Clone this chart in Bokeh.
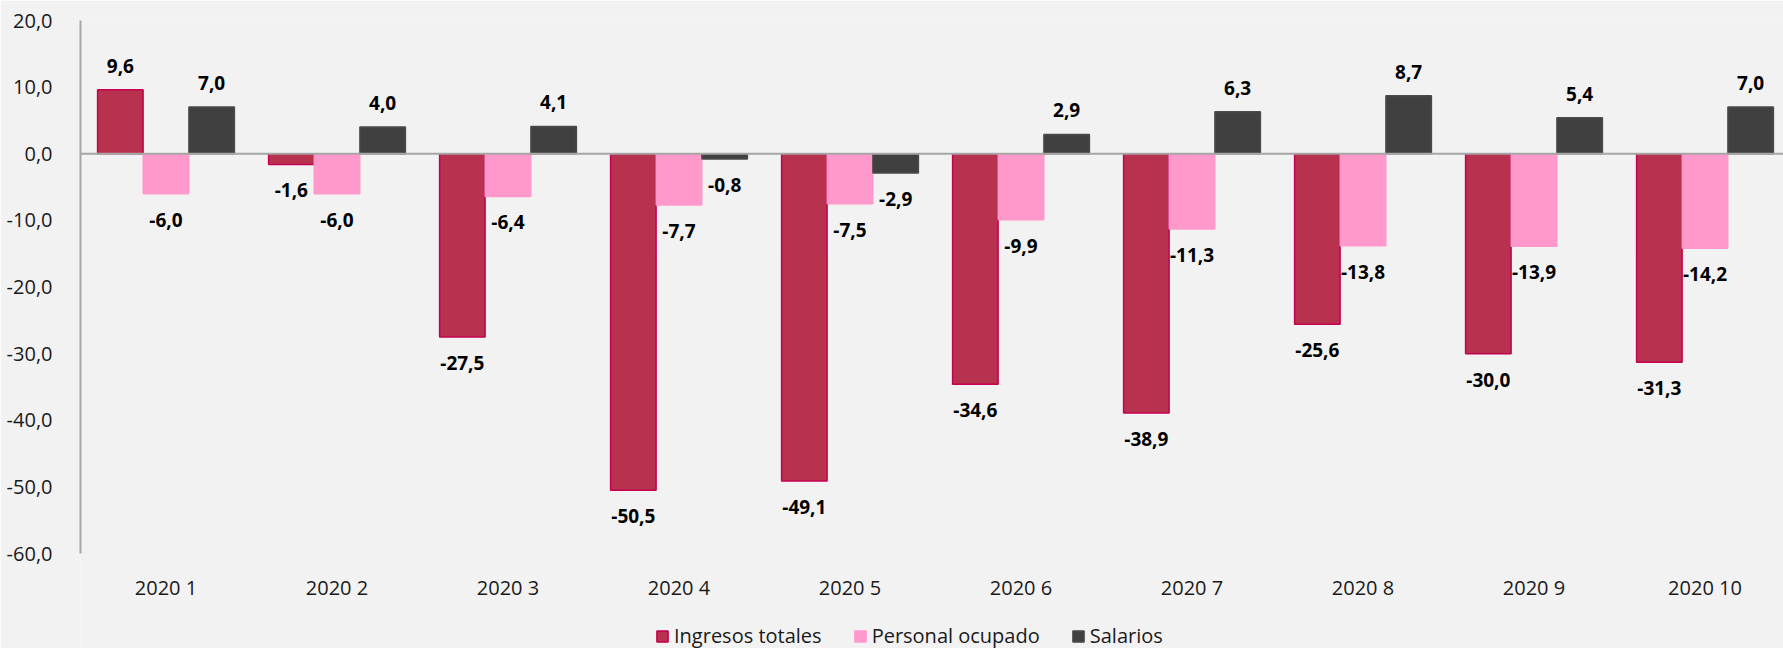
from bokeh.plotting import figure
from bokeh.models import Range1d, FixedTicker, Span, Legend, LegendItem, ColumnDataSource
from bokeh.embed import file_html
from bokeh.resources import INLINE
from bokeh.core.properties import value

categories = ["2020 1", "2020 2", "2020 3", "2020 4", "2020 5",
              "2020 6", "2020 7", "2020 8", "2020 9", "2020 10"]
ingresos = [9.6, -1.6, -27.5, -50.5, -49.1, -34.6, -38.9, -25.6, -30.0, -31.3]
personal = [-6.0, -6.0, -6.4, -7.7, -7.5, -9.9, -11.3, -13.8, -13.9, -14.2]
salarios = [7.0, 4.0, 4.1, -0.8, -2.9, 2.9, 6.3, 8.7, 5.4, 7.0]
series_names = ["Ingresos totales", "Personal ocupado", "Salarios"]
y_ticks = [-60, -50, -40, -30, -20, -10, 0, 10, 20]
y_min, y_max = -60, 20

FONT = "Open Sans"
BG = "#F2F2F2"
fills = ["#B83250", "#FF99CC", "#404040"]
lines = ["#C4004F", "#FF99CC", "#4A4A4A"]
offsets = [-0.267, 0.0, 0.267]
bw = 0.266

W, H = 1783, 648
left_px, top_px, axis_bottom_px = 80, 20, 553
cat_px = 171.0  # width of one category in pixels (plot area runs slightly past the right edge)
ppu = (axis_bottom_px - top_px) / (y_max - y_min)
y_low = y_min - (H - axis_bottom_px) / ppu  # extend frame below the axis for labels/legend
x_high = (W - left_px) / cat_px

p = figure(width=W, height=H, x_range=Range1d(0, x_high), y_range=Range1d(y_low, y_max),
           output_backend="svg", toolbar_location=None,
           min_border_left=left_px, min_border_right=0, min_border_top=top_px, min_border_bottom=0,
           background_fill_color=BG, border_fill_color=BG, outline_line_color=None)
p.grid.visible = False

# y axis
p.yaxis.ticker = FixedTicker(ticks=y_ticks)
p.yaxis.bounds = (y_min, y_max)
p.yaxis.major_label_overrides = {t: f"{t:.1f}".replace(".", ",") for t in y_ticks}
p.yaxis.major_tick_line_color = None
p.yaxis.minor_tick_line_color = None
p.yaxis.axis_line_color = "#A6A6A6"
p.yaxis.axis_line_width = 2
p.yaxis.major_label_text_font = FONT
p.yaxis.major_label_text_font_size = "20px"
p.yaxis.major_label_text_color = "#1a1a1a"
p.yaxis.major_label_standoff = 22

# x axis (labels at the bottom of the value range)
centers = [i + 0.5 for i in range(len(categories))]
p.xaxis.fixed_location = y_min
p.xaxis.ticker = FixedTicker(ticks=centers)
p.xaxis.major_label_overrides = {c: lab for c, lab in zip(centers, categories)}
p.xaxis.axis_line_color = None
p.xaxis.major_tick_line_color = None
p.xaxis.minor_tick_line_color = None
p.xaxis.major_label_text_font = FONT
p.xaxis.major_label_text_font_size = "20px"
p.xaxis.major_label_text_color = "#1a1a1a"
p.xaxis.major_label_standoff = 14

items = []
for k, vals in enumerate([ingresos, personal, salarios]):
    xs = [c + offsets[k] for c in centers]
    src = ColumnDataSource(dict(
        x=xs, top=vals,
        lab=[f"{v:.1f}".replace(".", ",") for v in vals],
        yo=[-24 if v >= 0 else 26 for v in vals],
    ))
    r = p.vbar(x="x", top="top", bottom=0, width=bw, source=src,
               fill_color=fills[k], line_color=lines[k], line_width=1.5)
    p.text(x="x", y="top", text="lab", y_offset="yo", source=src,
           text_align="center", text_baseline="middle",
           text_font=value(FONT), text_font_size="19px", text_font_style="bold",
           text_color="#000000")
    items.append(LegendItem(label=series_names[k], renderers=[r]))

p.add_layout(Span(location=0, dimension="width", line_color="#A6A6A6", line_width=2))

legend = Legend(items=items, orientation="horizontal", location=(575, -1),
                label_text_font=FONT, label_text_font_size="20px", label_text_color="#1a1a1a",
                glyph_width=14, glyph_height=14, label_standoff=5, spacing=31,
                background_fill_alpha=0, border_line_color=None,
                padding=2, margin=0)
p.add_layout(legend, "center")

open("out.html", "w").write(file_html(p, INLINE))
